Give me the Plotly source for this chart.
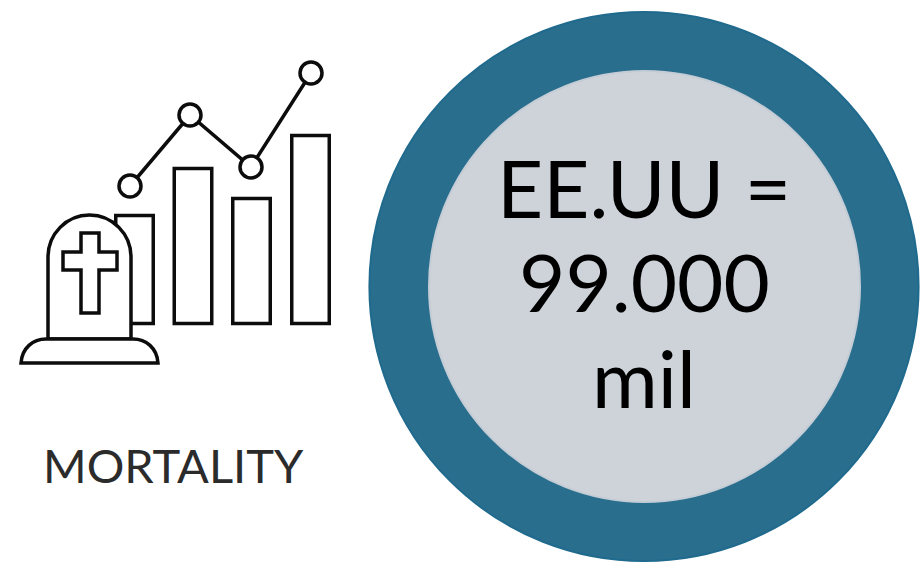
import plotly.graph_objects as go

# icon bars and trend line
bar_x = [134.5, 193, 251.5, 310.5]
bar_heights = [108, 155, 125, 188]
bar_base = 246.5
line_x = [130, 190, 251, 311]
line_y = [384, 455, 403, 497]

# headline figure
deaths = [99000]
circle_lines = ["EE.UU =", "99.000", "mil"]
circle_line_y = [383, 289, 193]
label = "MORTALITY"

RING = "#2a6e8e"
INNER = "#ced3da"
INK = "#0c0c0c"

W, H = 922, 570


def dom_x(a, b):
    return [a / W, b / W]


def dom_y(top, bottom):
    return [1 - bottom / H, 1 - top / H]


fig = go.Figure()

fig.add_trace(go.Bar(
    x=bar_x, y=bar_heights, base=bar_base, width=37.5,
    marker=dict(color="white", line=dict(color=INK, width=3.5)),
    hoverinfo="skip",
))
fig.add_trace(go.Scatter(
    x=line_x, y=line_y, mode="lines+markers",
    line=dict(color=INK, width=3.5),
    marker=dict(size=22, color="white", line=dict(color=INK, width=3.5)),
    hoverinfo="skip",
))

# outer ring and inner disc
fig.add_trace(go.Pie(
    values=deaths, hole=0, sort=False, textinfo="none", hoverinfo="skip",
    marker=dict(colors=[RING], line=dict(color="#1f6a8d", width=2)),
    domain=dict(x=dom_x(369, 919), y=dom_y(12, 561)),
))
fig.add_trace(go.Pie(
    values=deaths, hole=0, sort=False, textinfo="none", hoverinfo="skip",
    marker=dict(colors=[INNER], line=dict(color="#c4ccd5", width=2)),
    domain=dict(x=dom_x(429, 860), y=dom_y(71, 502)),
))

# gravestone over the first bar
tomb = "M48,231 L48,313 C48,336 66.5,355 89.5,355 C112.5,355 131,336 131,313 L131,231 Z"
plinth = "M21,207 C22,222 33,231 46,231 L133,231 C146,231 157,222 158,207 Z"
cross = ("M81,337 L99,337 L99,318 L117,318 L117,300 L99,300 L99,257 "
         "L81,257 L81,300 L63,300 L63,318 L81,318 Z")
for p in [tomb, plinth, cross]:
    fig.add_shape(type="path", path=p, xref="x", yref="y",
                  fillcolor="white", line=dict(color=INK, width=3.5))

for txt, y in zip(circle_lines, circle_line_y):
    fig.add_annotation(x=644, y=y, text=txt, showarrow=False, xanchor="center",
                       yanchor="middle", font=dict(family="Lato", size=80, color="black"))

fig.add_annotation(x=173.5, y=105, text=label, showarrow=False, xanchor="center",
                   yanchor="middle", font=dict(family="Lato", size=47, color="#2b2b2b"))

fig.update_xaxes(range=[0, W], visible=False, fixedrange=True)
fig.update_yaxes(range=[0, H], visible=False, fixedrange=True)
fig.update_layout(
    width=W, height=H, margin=dict(l=0, r=0, t=0, b=0),
    paper_bgcolor="white", plot_bgcolor="white", showlegend=False,
)

fig.write_html("out.html", config=dict(displayModeBar=False),
               post_script="document.body.style.margin='0';")
